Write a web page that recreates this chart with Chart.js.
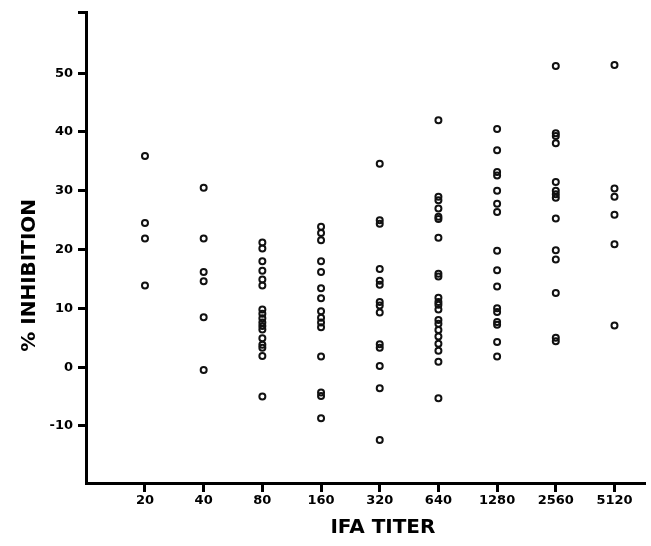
<!DOCTYPE html>
<html>
<head>
<meta charset="utf-8">
<script src="https://cdn.jsdelivr.net/npm/chart.js@4/dist/chart.umd.min.js"></script>
<style>
  html, body { margin: 0; padding: 0; background: #fff; overflow: hidden; }
  canvas { display: block; }
</style>
</head>
<body>
<canvas id="chart" width="651" height="546"></canvas>
<script>
// IFA titer categories (x axis)
const titers = ['20', '40', '80', '160', '320', '640', '1280', '2560', '5120'];

// % inhibition values
const t20 = [35.9, 24.5, 21.9, 13.9];
const t40 = [30.5, 21.9, 16.2, 14.6, 8.5, -0.5];
const t80 = [21.2, 20.2, 18.0, 16.4, 14.9, 13.9, 9.8, 9.1, 8.3, 7.6, 7.0, 6.4, 4.9, 3.8, 3.3, 1.9, -5.0];
const t160 = [23.9, 22.8, 21.6, 18.0, 16.2, 13.4, 11.7, 9.5, 8.4, 7.6, 6.8, 1.8, -4.3, -4.9, -8.7];
const t320 = [34.6, 25.0, 24.4, 16.7, 14.7, 14.0, 11.1, 10.5, 9.3, 3.9, 3.3, 0.2, -3.6, -12.4];
const t640 = [42.0, 29.0, 28.4, 27.0, 25.6, 25.2, 22.0, 15.9, 15.4, 11.8, 11.1, 10.6, 9.8, 8.0, 7.4, 6.3, 5.2, 4.0, 2.8, 0.9, -5.3];
const t1280 = [40.5, 36.9, 33.2, 32.6, 30.0, 27.8, 26.4, 19.8, 16.5, 13.7, 10.0, 9.4, 7.7, 7.2, 4.3, 1.8];
const t2560 = [51.2, 39.8, 39.3, 38.1, 31.5, 30.0, 29.4, 28.8, 25.3, 19.9, 18.3, 12.6, 5.0, 4.4];
const t5120 = [51.4, 30.4, 29.0, 25.9, 20.9, 7.1];

const columns = [t20, t40, t80, t160, t320, t640, t1280, t2560, t5120];

// y axis labels
const yTicks = [-10, 0, 10, 20, 30, 40, 50];
const yMin = -19.7, yMax = 60.4;

// flatten into scatter points (x = category index)
const points = [];
columns.forEach((col, i) => {
  col.forEach(v => points.push({ x: i, y: v }));
});

const ctx = document.getElementById('chart').getContext('2d');
const chart = new Chart(ctx, {
  type: 'scatter',
  data: {
    datasets: [{
      data: points,
      pointStyle: 'circle',
      pointRadius: 3,
      pointBorderWidth: 2,
      borderColor: '#111',
      backgroundColor: 'rgba(0,0,0,0)'
    }]
  },
  options: {
    responsive: false,
    animation: false,
    layout: { padding: { top: 12, right: 1, left: 0, bottom: 0 } },
    plugins: {
      legend: { display: false },
      tooltip: { enabled: false }
    },
    scales: {
      x: {
        type: 'linear',
        min: -1.005,
        max: 8.52,
        afterBuildTicks: axis => {
          axis.ticks = titers.map((t, i) => ({ value: i }));
        },
        afterFit: axis => {
          axis.height = 63;
          axis.paddingLeft = 0;
          axis.paddingRight = 0;
        },
        border: { display: true, width: 3, color: '#000' },
        grid: {
          drawOnChartArea: false,
          drawTicks: true,
          tickLength: 9,
          tickWidth: 3,
          tickColor: '#000'
        },
        ticks: {
          padding: 1,
          color: '#000',
          font: { family: 'DejaVu Sans', weight: 'bold', size: 13 },
          callback: v => titers[v]
        },
        title: {
          display: true,
          text: '\u00a0\u00a0\u00a0\u00a0\u00a0IFA TITER',
          color: '#000',
          font: { family: 'DejaVu Sans', weight: 'bold', size: 20 },
          padding: { top: 0, bottom: 6 }
        }
      },
      y: {
        min: yMin,
        max: yMax,
        afterBuildTicks: axis => {
          axis.ticks = yTicks.map(v => ({ value: v })).concat([{ value: yMax }]);
        },
        afterFit: axis => {
          axis.width = 86;
          axis.paddingTop = 0;
          axis.paddingBottom = 0;
        },
        border: { display: true, width: 3, color: '#000' },
        grid: {
          drawOnChartArea: false,
          drawTicks: true,
          tickLength: 8,
          tickWidth: 3,
          tickColor: '#000'
        },
        ticks: {
          padding: 5,
          color: '#000',
          font: { family: 'DejaVu Sans', weight: 'bold', size: 13 },
          callback: v => yTicks.includes(v) ? String(v) : ''
        },
        title: {
          display: true,
          text: '% INHIBITION' + '\u00a0'.repeat(8),
          color: '#000',
          font: { family: 'DejaVu Sans', weight: 'bold', size: 20 },
          padding: { top: 18, bottom: 0 }
        }
      }
    }
  }
});
</script>
</body>
</html>
